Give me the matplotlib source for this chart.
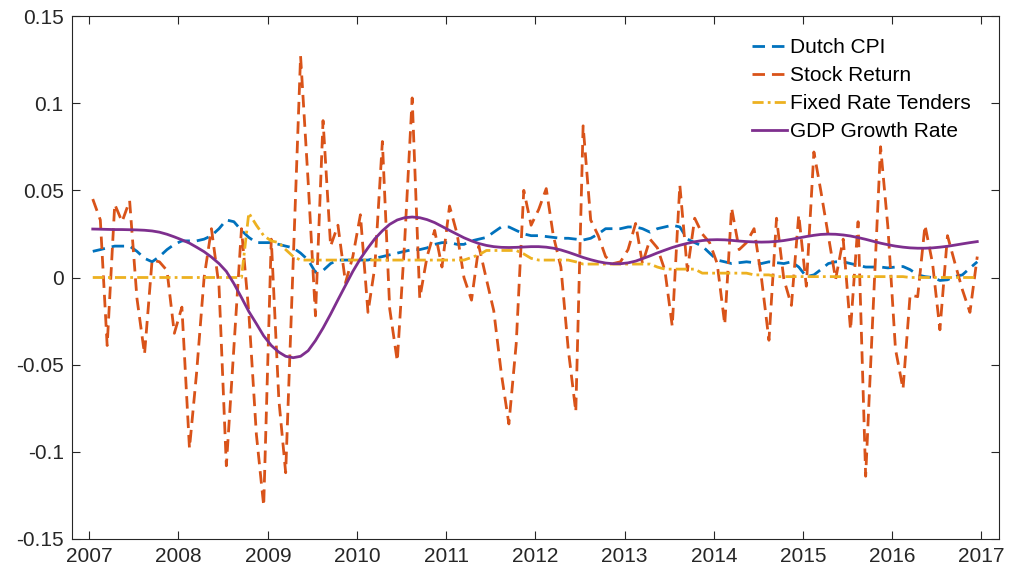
import numpy as np
import pandas as pd
import matplotlib
matplotlib.use("Agg")
import matplotlib.pyplot as plt
import matplotlib.dates as mdates
from matplotlib.ticker import FixedLocator, FuncFormatter

# Monthly observations, Jan 2007 - Dec 2016 (stamped mid-month)
months = pd.date_range("2007-01-01", periods=120, freq="MS") + pd.Timedelta(days=14)

dutch_cpi = [
    0.015, 0.016, 0.017, 0.018, 0.018, 0.018, 0.015, 0.011, 0.009, 0.012,
    0.016, 0.019, 0.021, 0.021, 0.021, 0.022, 0.024, 0.028, 0.033, 0.032,
    0.027, 0.023, 0.020, 0.020, 0.020, 0.019, 0.018, 0.017, 0.014, 0.010,
    0.003, 0.004, 0.008, 0.010, 0.010, 0.010, 0.010, 0.010, 0.011, 0.012,
    0.013, 0.014, 0.015, 0.016, 0.016, 0.017, 0.019, 0.020, 0.020, 0.019,
    0.019, 0.021, 0.022, 0.023, 0.026, 0.029, 0.029, 0.027, 0.025, 0.024,
    0.024, 0.0235, 0.023, 0.0225, 0.0225, 0.022, 0.0215, 0.0225, 0.025, 0.028,
    0.028, 0.028, 0.029, 0.029, 0.028, 0.026, 0.028, 0.029, 0.030, 0.029,
    0.022, 0.020, 0.018, 0.014, 0.010, 0.009, 0.008, 0.0085, 0.009, 0.0085,
    0.008, 0.009, 0.0085, 0.008, 0.009, 0.006, 0.0005, 0.0015, 0.0045, 0.008,
    0.009, 0.009, 0.008, 0.007, 0.006, 0.006, 0.006, 0.0055, 0.006, 0.0063,
    0.0045, 0.0015, 0.0005, 0.0, -0.0017, -0.0013, 0.0006, 0.0015, 0.0054, 0.009,
]

stock_return = [
    0.045, 0.033, -0.039, 0.042, 0.032, 0.044, -0.012, -0.044, 0.010, 0.009,
    0.004, -0.032, -0.017, -0.098, -0.055, 0.000, 0.028, -0.005, -0.108, -0.040,
    0.028, -0.020, -0.090, -0.131, 0.022, -0.070, -0.112, 0.010, 0.127, 0.055,
    -0.022, 0.090, 0.018, 0.030, -0.003, 0.012, 0.036, -0.020, 0.006, 0.078,
    -0.018, -0.048, 0.020, 0.103, -0.012, 0.012, 0.027, 0.006, 0.041, 0.025,
    0.000, -0.013, 0.018, -0.001, -0.019, -0.055, -0.084, -0.038, 0.050, 0.030,
    0.039, 0.051, 0.024, 0.006, -0.041, -0.077, 0.087, 0.033, 0.024, 0.012,
    0.008, 0.009, 0.016, 0.031, 0.008, 0.022, 0.017, 0.004, -0.028, 0.053,
    0.004, 0.034, 0.025, 0.020, 0.008, -0.027, 0.040, 0.016, 0.020, 0.028,
    0.000, -0.036, 0.034, -0.001, -0.016, 0.036, -0.005, 0.072, 0.050, 0.024,
    -0.001, 0.022, -0.030, 0.032, -0.114, -0.020, 0.075, 0.029, -0.041, -0.064,
    -0.010, -0.011, 0.030, 0.008, -0.030, 0.024, 0.008, -0.007, -0.020, 0.012,
]

fixed_rate_tenders = [
    0.0, 0.0, 0.0, 0.0, 0.0, 0.0, 0.0, 0.0, 0.0, 0.0,
    0.0, 0.0, 0.0, 0.0, 0.0, 0.0, 0.0, 0.0, 0.0, 0.0,
    0.0, 0.037, 0.030, 0.024, 0.021, 0.020, 0.016, 0.012, 0.010, 0.010,
    0.010, 0.010, 0.010, 0.010, 0.010, 0.010, 0.010, 0.010, 0.010, 0.010,
    0.010, 0.010, 0.010, 0.010, 0.010, 0.010, 0.010, 0.010, 0.010, 0.010,
    0.010, 0.0115, 0.013, 0.0155, 0.0155, 0.0155, 0.0155, 0.0155, 0.0135, 0.011,
    0.010, 0.010, 0.010, 0.010, 0.010, 0.009, 0.0077, 0.0077, 0.0077, 0.0077,
    0.0077, 0.0077, 0.0077, 0.0077, 0.0077, 0.0077, 0.006, 0.0048, 0.0048, 0.0048,
    0.0048, 0.0048, 0.0025, 0.0025, 0.0025, 0.0025, 0.0025, 0.0025, 0.0025, 0.0015,
    0.0015, 0.0015, 0.0005, 0.0005, 0.0005, 0.0005, 0.0005, 0.0005, 0.0005, 0.0005,
    0.0005, 0.0005, 0.0005, 0.0005, 0.0005, 0.0005, 0.0005, 0.0005, 0.0005, 0.0005,
    0.0, 0.0, 0.0, 0.0, 0.0, 0.0, 0.0, 0.0, 0.0, 0.0,
]

gdp_growth = [
    0.0278, 0.0277, 0.0276, 0.0275, 0.0275, 0.0274, 0.0273, 0.0271, 0.0267, 0.0260,
    0.0248, 0.0233, 0.0216, 0.0197, 0.0174, 0.0148, 0.0117, 0.0080, 0.0035, -0.0035,
    -0.0115, -0.0195, -0.0265, -0.0335, -0.0390, -0.0428, -0.0452, -0.0460, -0.0452, -0.0420,
    -0.0362, -0.0290, -0.0210, -0.0128, -0.0045, 0.0035, 0.0108, 0.0170, 0.0222, 0.0268,
    0.0305, 0.0330, 0.0343, 0.0347, 0.0343, 0.0332, 0.0315, 0.0293, 0.0270, 0.0248,
    0.0228, 0.0210, 0.0195, 0.0184, 0.0177, 0.0173, 0.0172, 0.0173, 0.0175, 0.0177,
    0.0177, 0.0174, 0.0168, 0.0158, 0.0145, 0.0130, 0.0115, 0.0102, 0.0091, 0.0083,
    0.0079, 0.0079, 0.0084, 0.0094, 0.0108, 0.0124, 0.0141, 0.0157, 0.0172, 0.0185,
    0.0196, 0.0205, 0.0212, 0.0216, 0.0217, 0.0216, 0.0213, 0.0209, 0.0206, 0.0204,
    0.0203, 0.0204, 0.0207, 0.0212, 0.0219, 0.0227, 0.0235, 0.0242, 0.0247, 0.0249,
    0.0248, 0.0244, 0.0238, 0.0229, 0.0219, 0.0208, 0.0197, 0.0188, 0.0180, 0.0174,
    0.0170, 0.0168, 0.0168, 0.0170, 0.0174, 0.0179, 0.0186, 0.0193, 0.0200, 0.0206,
]

series_labels = ["Dutch CPI", "Stock Return", "Fixed Rate Tenders", "GDP Growth Rate"]
y_ticks = [-0.15, -0.1, -0.05, 0, 0.05, 0.1, 0.15]
y_tick_labels = ["-0.15", "-0.1", "-0.05", "0", "0.05", "0.1", "0.15"]

plt.rcParams["font.family"] = ["Liberation Sans", "DejaVu Sans"]
text_color = "#262626"

fig = plt.figure(figsize=(10.11, 5.80), dpi=100)
ax = fig.add_axes([72 / 1011, 41 / 580, 927 / 1011, 523 / 580])

lw = 2.0
ax.plot(months, dutch_cpi, color="#0072BD", lw=lw, dashes=(4.5, 2.5),
        label=series_labels[0])
ax.plot(months, stock_return, color="#D95319", lw=lw, dashes=(4.5, 2.5),
        label=series_labels[1])
ax.plot(months, fixed_rate_tenders, color="#EDB120", lw=lw,
        dashes=(4.0, 1.5, 1.0, 1.5), label=series_labels[2])
ax.plot(months, gdp_growth, color="#7E2F8E", lw=lw, label=series_labels[3])

ax.set_xlim(pd.Timestamp("2006-10-22"), pd.Timestamp("2017-03-14"))
ax.set_ylim(-0.15, 0.15)
ax.xaxis.set_major_locator(mdates.YearLocator())
ax.xaxis.set_major_formatter(mdates.DateFormatter("%Y"))
ax.yaxis.set_major_locator(FixedLocator(y_ticks))


def y_label(v, pos):
    r = round(v, 2)
    return y_tick_labels[y_ticks.index(r)] if r in y_ticks else ""


ax.yaxis.set_major_formatter(FuncFormatter(y_label))

ax.tick_params(direction="in", length=6, width=0.8, top=True, right=True,
               colors=text_color, labelsize=15, pad=6)
for s in ax.spines.values():
    s.set_color(text_color)
    s.set_linewidth(0.8)

leg = ax.legend(loc="upper left", bbox_to_anchor=(0.7335, 0.958), frameon=False,
                fontsize=15, handlelength=1.7, handletextpad=0.15,
                labelspacing=0.43, borderpad=0, borderaxespad=0)
for t in leg.get_texts():
    t.set_color("black")

fig.savefig("out.png", dpi=100)
